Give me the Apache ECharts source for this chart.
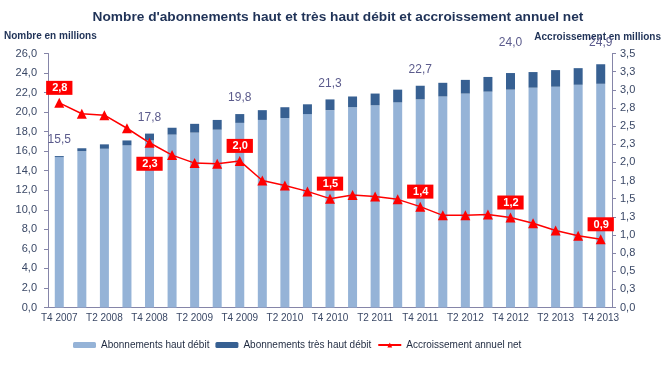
<!DOCTYPE html>
<html>
<head>
<meta charset="utf-8">
<script src="https://cdn.jsdelivr.net/npm/echarts@6/dist/echarts.min.js"></script>
<style>html,body{margin:0;padding:0;background:#fff}#c{width:667px;height:365px}</style>
</head>
<body>
<div id="c"></div>
<script>
const categories = ['T4 2007','T1 2008','T2 2008','T3 2008','T4 2008','T1 2009','T2 2009','T3 2009','T4 2009','T1 2010','T2 2010','T3 2010','T4 2010','T1 2011','T2 2011','T3 2011','T4 2011','T1 2012','T2 2012','T3 2012','T4 2012','T1 2013','T2 2013','T3 2013','T4 2013'];
const totals = [15.5,16.3,16.7,17.1,17.8,18.4,18.8,19.2,19.8,20.2,20.5,20.8,21.3,21.6,21.9,22.3,22.7,23.0,23.3,23.6,24.0,24.1,24.3,24.5,24.9];
const hautDebit = [15.4,16.0,16.25,16.6,17.1,17.7,17.9,18.2,18.9,19.2,19.4,19.8,20.2,20.5,20.7,21.0,21.3,21.6,21.9,22.1,22.3,22.5,22.6,22.8,22.9];
const accroissement = [2.82,2.67,2.65,2.47,2.27,2.10,1.99,1.98,2.02,1.75,1.68,1.60,1.50,1.55,1.53,1.49,1.39,1.27,1.27,1.28,1.24,1.16,1.06,0.99,0.94];
const labeledIdx = [0,4,8,12,16,20,24];
const leftTicks = [0,26,2];
const rightTicks = [0,3.5,0.25];

const tresHautDebit = totals.map((t,i)=>+(t - hautDebit[i]).toFixed(2));
const fmt = v => v.toFixed(1).replace('.', ',');
const FONT = 'Liberation Sans, Arial, sans-serif';

const thdData = tresHautDebit.map((v,i)=>{
  const item = {value:v};
  if (labeledIdx.includes(i)) {
    item.label = {show:true, position:'top', distance: i===20 ? 24 : (i===24 ? 16 : 10),
      formatter: ()=>fmt(totals[i]), color:'#5b5b8c', fontSize:12, fontFamily:FONT};
  }
  return item;
});
const lineData = accroissement.map((v,i)=>{
  const item = {value:v};
  if (labeledIdx.includes(i)) {
    item.label = {show:true, position: i===4 ? 'bottom' : 'top', distance: i===4 ? 9 : 3,
      formatter: ()=>fmt(v), color:'#fff', fontWeight:'bold', fontSize:11, fontFamily:FONT,
      backgroundColor:'#ff0000', padding:[2,5,1,6]};
  }
  return item;
});

const chart = echarts.init(document.getElementById('c'), null, {renderer:'canvas'});
chart.setOption({
  animation:false,
  textStyle:{fontFamily:FONT},
  title:{text:"Nombre d'abonnements haut et très haut débit et accroissement annuel net",
    left:333, textAlign:'center', top:5,
    textStyle:{fontSize:13.7, fontWeight:'bold', color:'#1f3257', fontFamily:FONT}},
  graphic:[
    {type:'text', left:4, top:31, style:{text:'Nombre en millions', fontSize:10, fontWeight:'bold', fill:'#1f3257', fontFamily:FONT}},
    {type:'text', right:6, top:32, style:{text:'Accroissement en millions', fontSize:10, fontWeight:'bold', fill:'#1f3257', fontFamily:FONT}}
  ],
  grid:{left:48, right:55, top:53.5, bottom:57.5, containLabel:false},
  legend:{left:68, top:335, itemWidth:23, itemHeight:6, itemGap:6,
    textStyle:{fontSize:10, color:'#1f2a40', fontFamily:FONT},
    data:['Abonnements haut débit','Abonnements très haut débit','Accroissement annuel net']},
  xAxis:{type:'category', data:categories, boundaryGap:true,
    axisLine:{lineStyle:{color:'#8585a8', width:1}},
    axisTick:{interval:(i)=>i%2===1, length:4, lineStyle:{color:'#8585a8'}},
    axisLabel:{interval:1, fontSize:10, color:'#3a4866', margin:6, fontFamily:FONT}},
  yAxis:[
    {type:'value', min:leftTicks[0], max:leftTicks[1], interval:leftTicks[2], position:'left',
      splitLine:{show:false},
      axisLine:{show:true, lineStyle:{color:'#8585a8'}},
      axisTick:{show:true, length:4, lineStyle:{color:'#8585a8'}},
      axisLabel:{formatter:fmt, fontSize:11, color:'#3a4866', margin:11, fontFamily:FONT}},
    {type:'value', min:rightTicks[0], max:rightTicks[1], interval:rightTicks[2], position:'right',
      splitLine:{show:false},
      axisLine:{show:true, lineStyle:{color:'#8585a8'}},
      axisTick:{show:true, length:4, lineStyle:{color:'#8585a8'}},
      axisLabel:{formatter:fmt, fontSize:11, color:'#3a4866', margin:8, fontFamily:FONT}}
  ],
  series:[
    {name:'Abonnements haut débit', type:'bar', stack:'ab', barWidth:9, data:hautDebit,
      itemStyle:{color:'#95b3d7'}},
    {name:'Abonnements très haut débit', type:'bar', stack:'ab', barWidth:9, data:thdData,
      itemStyle:{color:'#376092'}},
    {name:'Accroissement annuel net', type:'line', yAxisIndex:1, data:lineData,
      symbol:'triangle', symbolSize:10, z:5,
      lineStyle:{color:'#ff0000', width:1.5}, itemStyle:{color:'#ff0000'}}
  ]
});
</script>
</body>
</html>
